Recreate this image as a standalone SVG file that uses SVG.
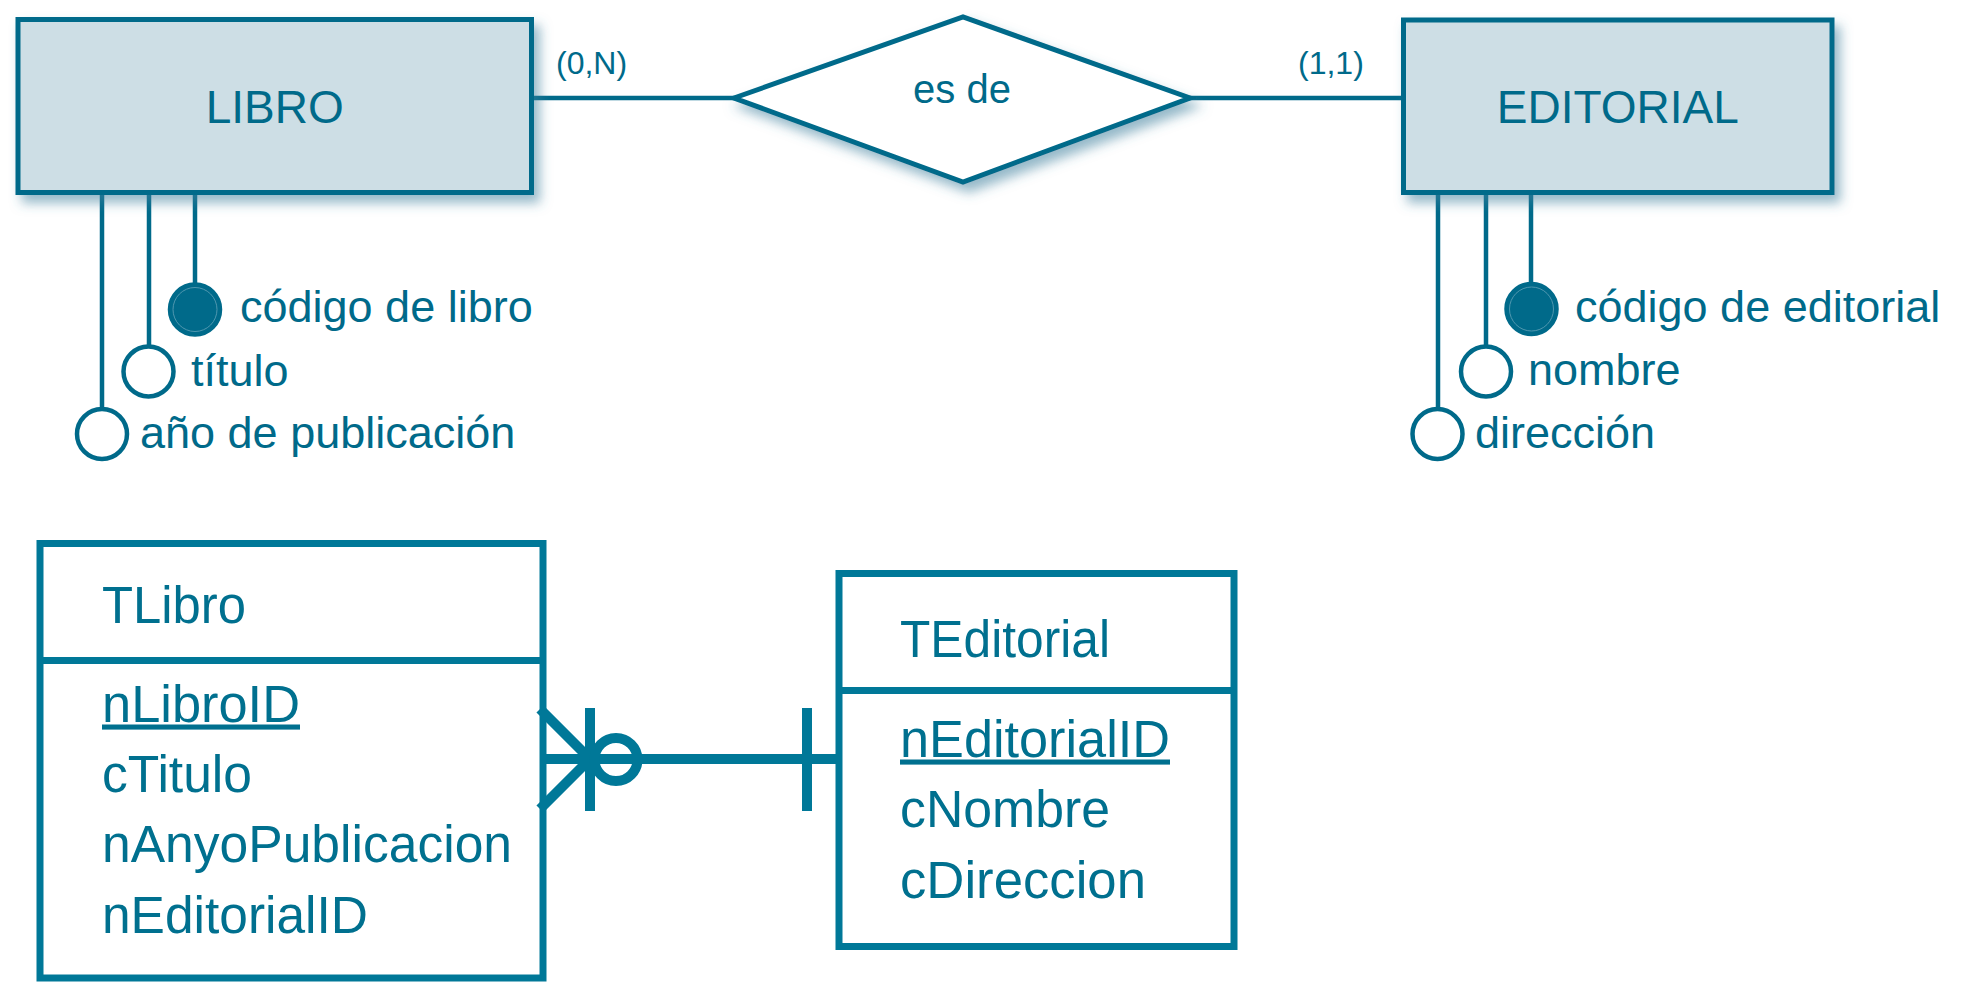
<svg xmlns="http://www.w3.org/2000/svg" width="1962" height="1002" viewBox="0 0 1962 1002">
<defs>
<filter id="sh" x="-10%" y="-10%" width="130%" height="140%">
<feDropShadow dx="6" dy="8" stdDeviation="6" flood-color="#3f7f9c" flood-opacity="0.55"/>
</filter>
</defs>
<style>
.ent{fill:#cddee5;stroke:#006a8a;stroke-width:5}
.rel{fill:#ffffff;stroke:#006a8a;stroke-width:5;stroke-linejoin:miter}
.ln{stroke:#006a8a;stroke-width:4.5;fill:none}
.att{fill:#ffffff;stroke:#006a8a;stroke-width:4.5}
.key{fill:#006a8a;stroke:#006a8a;stroke-width:4.5}
.ring{fill:none;stroke:#4f97af;stroke-width:1}
.t{font-family:"Liberation Sans",Arial,sans-serif;fill:#006a8a}
.tb{fill:none;stroke:#007898;stroke-width:7}
.cn{stroke:#007898;stroke-width:10;fill:none}
.tt{font-family:"Liberation Sans",Arial,sans-serif;fill:#00708f;font-size:51px}
</style>
<rect width="1962" height="1002" fill="#ffffff"/>

<g id="connectors">
<line class="ln" x1="531" y1="98" x2="736" y2="98"/>
<line class="ln" x1="1188" y1="98" x2="1404" y2="98"/>
<line class="ln" x1="102" y1="192" x2="102" y2="409"/>
<line class="ln" x1="149" y1="192" x2="149" y2="346"/>
<line class="ln" x1="195" y1="192" x2="195" y2="284"/>
<line class="ln" x1="1438" y1="192" x2="1438" y2="409"/>
<line class="ln" x1="1486" y1="192" x2="1486" y2="346"/>
<line class="ln" x1="1531" y1="192" x2="1531" y2="284"/>
<g id="rel-tlibro-teditorial">
<line class="cn" x1="543" y1="759" x2="839" y2="759"/>
<line class="cn" x1="540" y1="709" x2="590" y2="759"/>
<line class="cn" x1="540" y1="809" x2="590" y2="759"/>
<line class="cn" x1="590" y1="708" x2="590" y2="811"/>
<circle class="cn" cx="616" cy="759.5" r="21.5" stroke-width="9.5"/>
<line class="cn" x1="807" y1="708" x2="807" y2="811"/>
</g>
<text class="t" x="556" y="74" font-size="32">(0,N)</text>
<text class="t" x="1298" y="74" font-size="32">(1,1)</text>
</g>

<g id="libro">
<rect class="ent" x="18" y="19.5" width="513.5" height="173" filter="url(#sh)"/>
<text class="t" x="274.75" y="123" font-size="46" text-anchor="middle">LIBRO</text>
</g>

<g id="editorial">
<rect class="ent" x="1403.5" y="20" width="428.5" height="172.5" filter="url(#sh)"/>
<text class="t" x="1617.75" y="123" font-size="46" text-anchor="middle">EDITORIAL</text>
</g>

<g id="es-de">
<polygon class="rel" points="734,98 963,17 1190,98 963,182" filter="url(#sh)"/>
<text class="t" x="962" y="103" font-size="40" text-anchor="middle">es de</text>
</g>

<g id="attr-codigo-libro">
<circle class="key" cx="195" cy="309.5" r="25"/>
<circle class="ring" cx="195" cy="309.5" r="22"/>
<text class="t" x="240" y="322" font-size="45">código de libro</text>
</g>
<g id="attr-titulo">
<circle class="att" cx="148.5" cy="371.5" r="25"/>
<text class="t" x="191" y="386" font-size="45">título</text>
</g>
<g id="attr-anyo">
<circle class="att" cx="102" cy="434" r="25"/>
<text class="t" x="140" y="448" font-size="45">año de publicación</text>
</g>

<g id="attr-codigo-editorial">
<circle class="key" cx="1531.5" cy="309" r="25"/>
<circle class="ring" cx="1531.5" cy="309" r="22"/>
<text class="t" x="1575" y="322" font-size="45">código de editorial</text>
</g>
<g id="attr-nombre">
<circle class="att" cx="1486" cy="371.5" r="25"/>
<text class="t" x="1528" y="385" font-size="45">nombre</text>
</g>
<g id="attr-direccion">
<circle class="att" cx="1437.5" cy="434" r="25"/>
<text class="t" x="1475" y="448" font-size="45">dirección</text>
</g>

<g id="tlibro">
<rect class="tb" x="40" y="543.5" width="503" height="434.5"/>
<line class="tb" x1="40" y1="660.5" x2="543" y2="660.5"/>
<text class="tt" x="102" y="622.5" textLength="144" lengthAdjust="spacingAndGlyphs">TLibro</text>
<text class="tt" x="102" y="721.5" text-decoration="underline" textLength="198" lengthAdjust="spacingAndGlyphs">nLibroID</text>
<text class="tt" x="102" y="791.5" textLength="150" lengthAdjust="spacingAndGlyphs">cTitulo</text>
<text class="tt" x="102" y="862" textLength="410" lengthAdjust="spacingAndGlyphs">nAnyoPublicacion</text>
<text class="tt" x="102" y="933" textLength="266" lengthAdjust="spacingAndGlyphs">nEditorialID</text>
</g>

<g id="teditorial">
<rect class="tb" x="839" y="573.5" width="395" height="373"/>
<line class="tb" x1="839" y1="690.5" x2="1234" y2="690.5"/>
<text class="tt" x="900" y="656.5" textLength="210" lengthAdjust="spacingAndGlyphs">TEditorial</text>
<text class="tt" x="900" y="756.5" text-decoration="underline" textLength="270" lengthAdjust="spacingAndGlyphs">nEditorialID</text>
<text class="tt" x="900" y="826.5" textLength="210" lengthAdjust="spacingAndGlyphs">cNombre</text>
<text class="tt" x="900" y="898" textLength="246" lengthAdjust="spacingAndGlyphs">cDireccion</text>
</g>
</svg>
